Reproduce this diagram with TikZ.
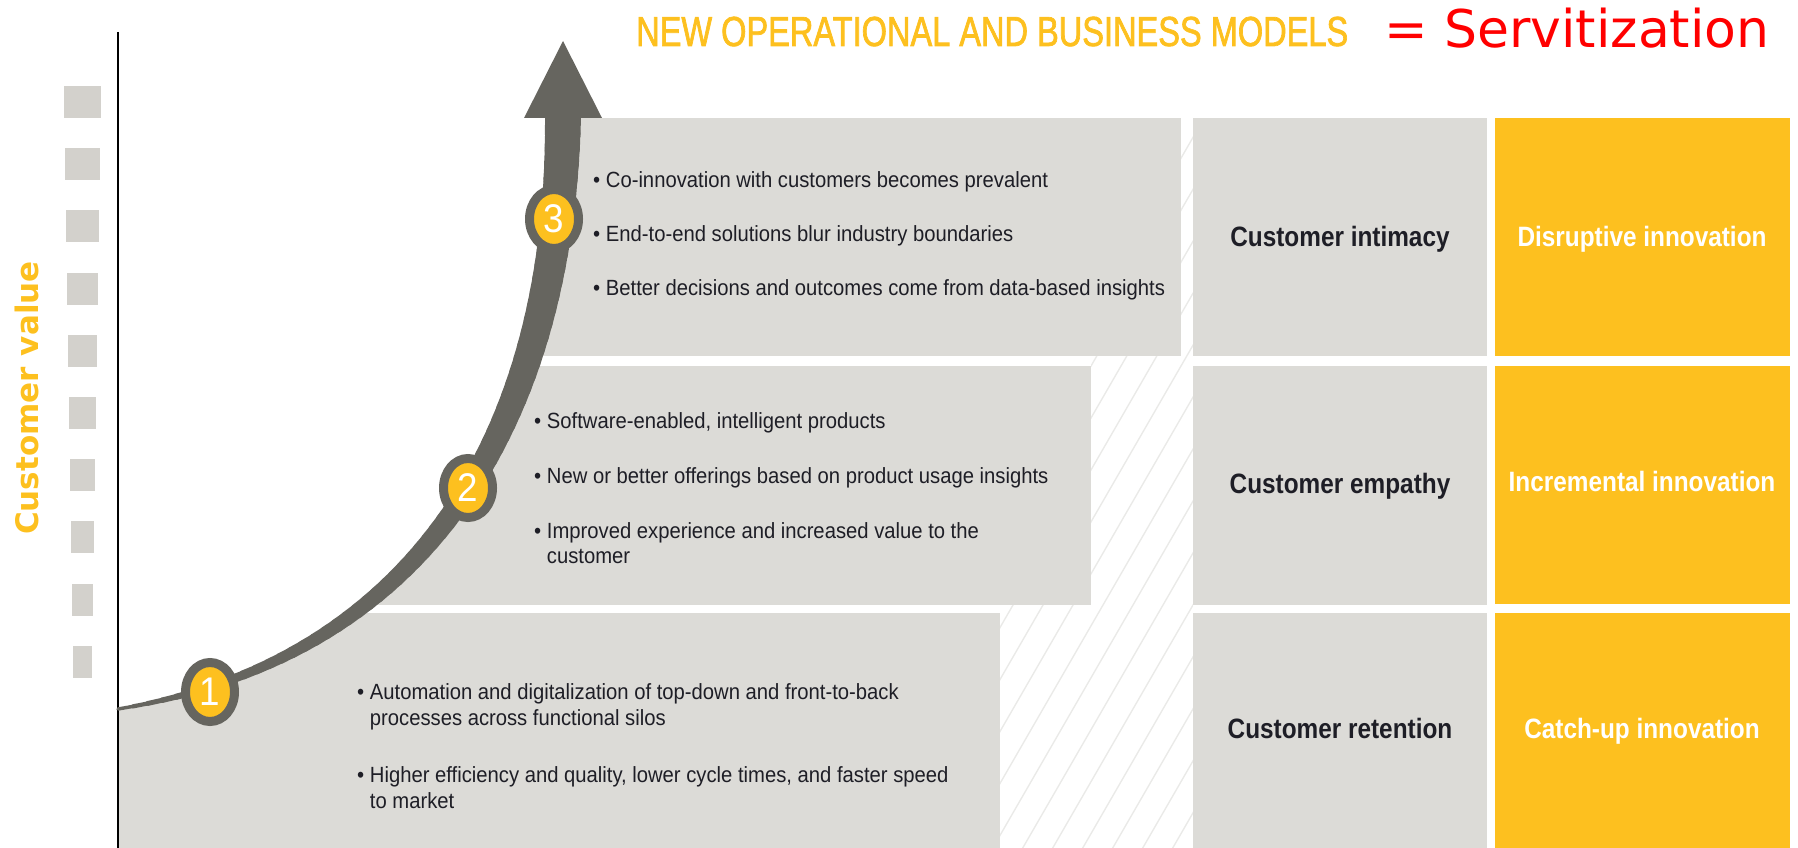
\documentclass[tikz,border=0pt]{standalone}
\usepackage{fontspec}
\setmainfont{Liberation Sans}
\newfontfamily\bodyf[FakeStretch=0.92]{Liberation Sans}
\newfontfamily\labf[FakeStretch=0.87]{Liberation Sans}
\newfontfamily\titlef[FakeStretch=0.775,FakeBold=1.6]{Liberation Sans}
\newfontfamily\dejav{DejaVu Sans}
\usetikzlibrary{shapes.geometric}
\definecolor{sapor}{HTML}{FDC01F}
\definecolor{boxgray}{HTML}{DCDBD7}
\definecolor{sqgray}{HTML}{D3D1CC}
\definecolor{arrowgray}{HTML}{66655F}
\definecolor{hatchc}{HTML}{EAEAE8}
\definecolor{txt}{HTML}{1E1E26}
\begin{document}
\begin{tikzpicture}[x=1pt,y=-1pt,
  body/.style={font=\bodyf\fontsize{22}{26}\selectfont, text=txt, anchor=base west, inner sep=0pt},
  midlab/.style={font=\labf\bfseries\fontsize{28}{30}\selectfont, text=txt, anchor=base, inner sep=0pt},
  orlab/.style={font=\labf\bfseries\fontsize{28}{30}\selectfont, text=white, anchor=base, inner sep=0pt},
  numc/.style={ellipse, draw=arrowgray, line width=9pt, fill=sapor, minimum width=49pt, minimum height=59pt, inner sep=0pt, text=white, font=\bodyf\fontsize{40}{40}\selectfont}
]
\useasboundingbox (0,0) rectangle (1798,848);

% dashed value scale
\foreach \i in {0,...,9} {
  \fill[sqgray] ({64+\i},{86+62.2*\i}) rectangle ({101-\i},{118+62.2*\i});
}
\node[rotate=90, text=sapor, font=\dejav\bfseries\fontsize{31}{31}\selectfont, inner sep=0pt] (yl) at (27,398) {Customer value};

% gray content boxes, clipped by the curve
\begin{scope}
  \clip (118,709) .. controls (420,660) and (560,430) .. (563,118) -- (563,0) -- (1798,0) -- (1798,848) -- (118,848) -- cycle;
  \fill[boxgray] (400,118) rectangle (1181,356);
  \fill[boxgray] (250,366) rectangle (1091,605);
  \fill[boxgray] (118,613) rectangle (1000,848);
\end{scope}

% hatched area
\begin{scope}
  \clip (1181,118) -- (1193,118) -- (1193,848) -- (1000,848) -- (1000,605) -- (1091,605) -- (1091,356) -- (1181,356) -- cycle;
  \foreach \k in {0,...,30} {
    \draw[hatchc, line width=1.4pt] ({560+30*\k},870) -- ++(485,-840);
  }
\end{scope}

% middle and right columns
\fill[boxgray] (1193,118) rectangle (1487,356);
\fill[boxgray] (1193,366) rectangle (1487,605);
\fill[boxgray] (1193,613) rectangle (1487,848);
\fill[sapor] (1495,118) rectangle (1790,356);
\fill[sapor] (1495,366) rectangle (1790,604);
\fill[sapor] (1495,613) rectangle (1790,848);

% axis
\coordinate (axtop) at (118,32);
\coordinate (axbot) at (118,848);
\draw[line width=2.2pt, black] (axtop) -- (axbot);

% tapered growth arrow
\foreach \i in {0,...,60} {
  \pgfmathsetmacro\t{\i/60}
  \pgfmathsetmacro\xx{(1-\t)^3*118 + 3*(1-\t)^2*\t*420 + 3*(1-\t)*\t^2*560 + \t^3*563}
  \pgfmathsetmacro\yy{(1-\t)^3*709 + 3*(1-\t)^2*\t*660 + 3*(1-\t)*\t^2*430 + \t^3*118}
  \coordinate (s\i) at (\xx,\yy);
}
\foreach \i in {0,...,59} {
  \pgfmathtruncatemacro\j{\i+1}
  \pgfmathsetmacro\w{3+33*(((\i+0.5)/60)^0.9)}
  \draw[arrowgray, line width=\w pt, line cap=round] (s\i) -- (s\j);
}
\coordinate (tipL) at (524,118);
\coordinate (tipR) at (602,118);
\coordinate (tip) at (563,41);
\fill[arrowgray] (tipL) -- (tipR) -- (tip) -- cycle;

% numbered markers
\node[numc] (n1) at (210,692) {1};
\node[numc] (n2) at (468,488) {2};
\node[numc] (n3) at (554,219) {3};

% row texts
\node[body] (r3a) at (593,187) {• Co-innovation with customers becomes prevalent};
\node[body] (r3b) at (593,241) {• End-to-end solutions blur industry boundaries};
\node[body] (r3c) at (593,295) {• Better decisions and outcomes come from data-based insights};

\node[body] (r2a) at (534,428) {• Software-enabled, intelligent products};
\node[body] (r2b) at (534,483) {• New or better offerings based on product usage insights};
\node[body] (r2c) at (534,538) {• Improved experience and increased value to the};
\node[body] (r2d) at (534,563) {\hphantom{• }customer};

\node[body] (r1a) at (357,699) {• Automation and digitalization of top-down and front-to-back};
\node[body] (r1b) at (357,725) {\hphantom{• }processes across functional silos};
\node[body] (r1c) at (357,782) {• Higher efficiency and quality, lower cycle times, and faster speed};
\node[body] (r1d) at (357,808) {\hphantom{• }to market};

% column labels
\node[midlab] (ci) at (1340,246) {Customer intimacy};
\node[midlab] (ce) at (1340,493) {Customer empathy};
\node[midlab] (cr) at (1340,738) {Customer retention};
\node[orlab] (di) at (1642,246) {Disruptive innovation};
\node[orlab] (ii) at (1642,491) {Incremental innovation};
\node[orlab] (cu) at (1642,738) {Catch-up innovation};

% title
\node[anchor=base west, inner sep=0pt, text=sapor, font=\titlef\fontsize{42}{42}\selectfont] (title) at (636,46) {NEW OPERATIONAL AND BUSINESS MODELS};
\node[anchor=base west, inner sep=0pt, text=red, font=\dejav\fontsize{52}{52}\selectfont] (serv) at (1384,48) {= Servitization};
\end{tikzpicture}
\end{document}
